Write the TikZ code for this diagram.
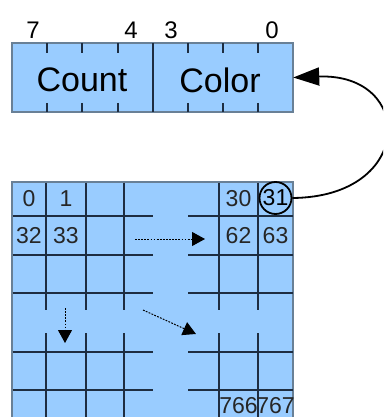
\documentclass[tikz,border=0pt]{standalone}
\usepackage{fontspec}
\setmainfont{Liberation Sans}
\usetikzlibrary{arrows.meta}
\definecolor{cellblue}{RGB}{153,204,255}
\definecolor{edgegray}{RGB}{105,128,150}
\definecolor{gridline}{RGB}{30,45,65}
\tikzset{
  outerbox/.style={fill=cellblue, draw=edgegray, line width=1.3pt},
  gline/.style={draw=gridline, line width=1.2pt},
  bitlabel/.style={font=\fontsize{24}{28}\selectfont, inner sep=0pt},
  fieldlabel/.style={font=\fontsize{34}{40}\selectfont, inner sep=0pt},
  numlabel/.style={font=\fontsize{23}{27}\selectfont, inner sep=0pt, text=black!85},
  dotarrow/.style={line width=1pt, dash pattern=on 1.8pt off 1.3pt, -{Triangle[length=13pt,width=14pt]}},
  mainarrow/.style={line width=1.8pt, -{Triangle[length=26pt,width=18pt]}}
}
\begin{document}
\begin{tikzpicture}[x=1pt,y=-1pt]
\useasboundingbox (0,0) rectangle (383,417);
\clip (0,0) rectangle (383,417);
% register
\path[outerbox] (12,43) rectangle (293,112);
\node[draw=none, minimum width=281pt, minimum height=69pt, inner sep=0pt] (reg) at (152.5,77.5) {};
\draw[gline] (153,43) -- (153,112);
\foreach \x in {47,82,118,188,223,258} {
  \draw[gline] (\x,43) -- (\x,53);
  \draw[gline] (\x,103) -- (\x,112);
}
\node[bitlabel] (b7) at (33,30) {7};
\node[bitlabel] (b4) at (131,30) {4};
\node[bitlabel] (b3) at (171,30) {3};
\node[bitlabel] (b0) at (272,30) {0};
\node[fieldlabel] (count) at (82,80) {Count};
\node[fieldlabel] (color) at (220,80) {Color};
% grid
\path[outerbox] (12,182) rectangle (293,440);
\foreach \y in {216,255,293,352,390} {
  \draw[gline] (12.5,\y) -- (153,\y);
  \draw[gline] (188,\y) -- (292.5,\y);
}
\foreach \x in {46,86,124,219,258} {
  \draw[gline] (\x,182.5) -- (\x,310);
  \draw[gline] (\x,333) -- (\x,440);
}
\node[numlabel] (n0) at (29,199) {0};
\node[numlabel] (n1) at (66,199) {1};
\node[numlabel] (n30) at (238.5,199) {30};
\node[draw=black, line width=1.8pt, circle, minimum size=32pt, inner sep=0pt, font=\fontsize{23}{27}\selectfont] (n31) at (275.5,198) {31};
\node[numlabel] (n32) at (29,235.5) {32};
\node[numlabel] (n33) at (66,235.5) {33};
\node[numlabel] (n62) at (238.5,235.5) {62};
\node[numlabel] (n63) at (275.5,235.5) {63};
\node[numlabel] (n766) at (238.5,405.5) {766};
\node[numlabel] (n767) at (275.5,405.5) {767};
% dotted arrows
\coordinate (h1) at (135,239);
\coordinate (h2) at (205,239);
\coordinate (v1) at (65,308);
\coordinate (v2) at (65,343);
\coordinate (d1) at (143,310);
\coordinate (d2) at (196,334);
\draw[dotarrow] (h1) -- (h2);
\draw[dotarrow] (v1) -- (v2);
\draw[dotarrow] (d1) -- (d2);
% main connector
\draw[mainarrow] (n31.east) .. controls (415,197) and (415,73) .. (reg.east);
\end{tikzpicture}
\end{document}
